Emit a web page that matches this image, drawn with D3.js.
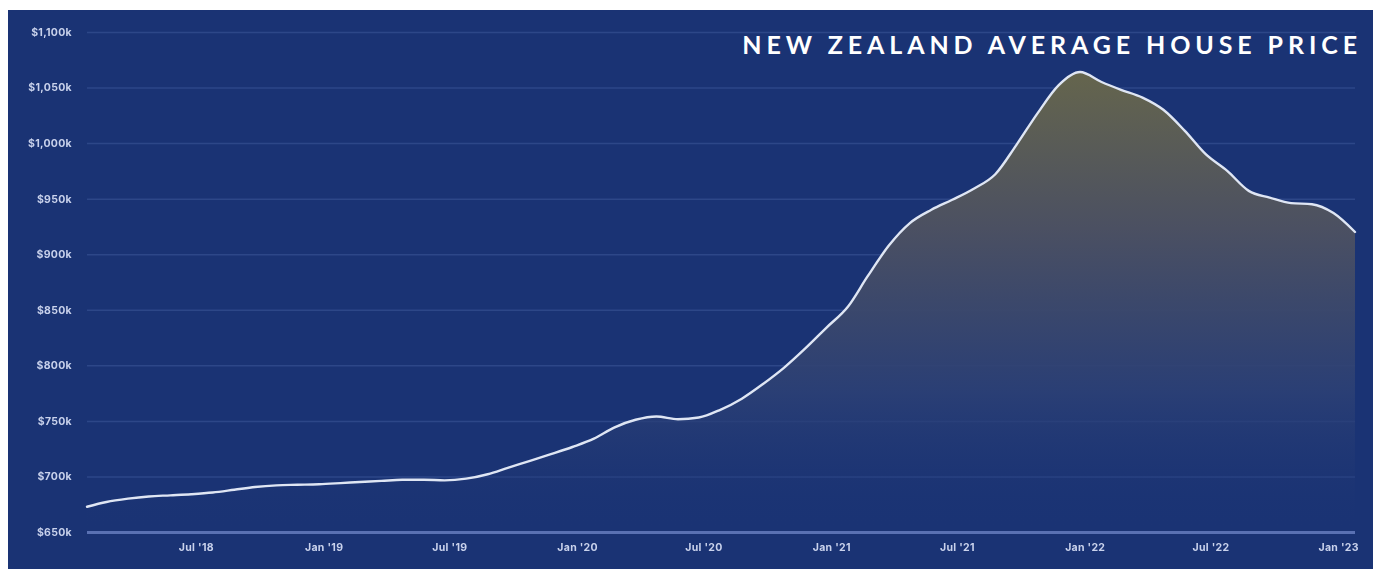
<!DOCTYPE html>
<html>
<head>
<meta charset="utf-8">
<script src="https://cdn.jsdelivr.net/npm/d3@7"></script>
<style>
  html, body { margin: 0; padding: 0; background: #ffffff; }
  svg { display: block; }
</style>
</head>
<body>
<svg id="chart" width="1373" height="569"></svg>
<script>
// Monthly average house price, NZD thousands (month-end, Jan 2018 – Jan 2023)
const months = [
  "2018-01","2018-02","2018-03","2018-04","2018-05","2018-06","2018-07","2018-08","2018-09","2018-10","2018-11","2018-12",
  "2019-01","2019-02","2019-03","2019-04","2019-05","2019-06","2019-07","2019-08","2019-09","2019-10","2019-11","2019-12",
  "2020-01","2020-02","2020-03","2020-04","2020-05","2020-06","2020-07","2020-08","2020-09","2020-10","2020-11","2020-12",
  "2021-01","2021-02","2021-03","2021-04","2021-05","2021-06","2021-07","2021-08","2021-09","2021-10","2021-11","2021-12",
  "2022-01","2022-02","2022-03","2022-04","2022-05","2022-06","2022-07","2022-08","2022-09","2022-10","2022-11","2022-12",
  "2023-01"
];
const avgPrice = [
  672.7, 677, 680, 682, 683, 684, 685.5, 688, 690.5, 692, 692.5, 693,
  694, 695, 696, 697, 697, 696.5, 698, 702, 708, 714, 720, 726.5,
  734, 744, 751, 754, 751.5, 753, 760, 770, 783, 798, 815, 834,
  853, 880, 908, 928, 940, 949, 959, 972, 998, 1027, 1052, 1064,
  1055, 1048, 1041, 1030, 1011, 990, 975, 957, 951, 946, 945, 937,
  920
];
const yTicks = [650, 700, 750, 800, 850, 900, 950, 1000, 1050, 1100];
const xTickDates = ["2018-07","2019-01","2019-07","2020-01","2020-07","2021-01","2021-07","2022-01","2022-07","2023-01"];
const xTickLabels = ["Jul '18","Jan '19","Jul '19","Jan '20","Jul '20","Jan '21","Jul '21","Jan '22","Jul '22","Jan '23"];
const title = "NEW ZEALAND AVERAGE HOUSE PRICE";

const svg = d3.select("#chart");
const W = 1373, H = 569;

// month-end date for each data point
const monthEnd = s => { const [y, m] = s.split("-").map(Number); return new Date(y, m, 0); };
const monthStart = s => { const [y, m] = s.split("-").map(Number); return new Date(y, m - 1, 1); };
const data = months.map((m, i) => ({ date: monthEnd(m), value: avgPrice[i] }));

const plot = { left: 87, right: 1355, top: 32, bottom: 532 };

const x = d3.scaleTime()
  .domain(d3.extent(data, d => d.date))
  .range([plot.left, plot.right]);
const y = d3.scaleLinear()
  .domain([650, 1100])
  .range([plot.bottom, plot.top]);

// panel background
svg.append("rect")
  .attr("x", 8).attr("y", 10)
  .attr("width", W - 8).attr("height", H - 10)
  .attr("fill", "#1a3374");

const defs = svg.append("defs");
const grad = defs.append("linearGradient")
  .attr("id", "areaFill")
  .attr("gradientUnits", "userSpaceOnUse")
  .attr("x1", 0).attr("y1", y(1070))
  .attr("x2", 0).attr("y2", y(650));
grad.append("stop").attr("offset", "0%").attr("stop-color", "#66664c").attr("stop-opacity", 1);
grad.append("stop").attr("offset", "35%").attr("stop-color", "#4b5062").attr("stop-opacity", 1);
grad.append("stop").attr("offset", "70%").attr("stop-color", "#2c4075").attr("stop-opacity", 0.9);
grad.append("stop").attr("offset", "100%").attr("stop-color", "#1a3374").attr("stop-opacity", 0);

const blur = defs.append("filter").attr("id", "soft")
  .attr("x", "-10%").attr("y", "-30%").attr("width", "120%").attr("height", "160%");
blur.append("feGaussianBlur").attr("stdDeviation", 0.55);

// horizontal gridlines
const yAxis = d3.axisLeft(y)
  .tickValues(yTicks)
  .tickSize(-(plot.right - plot.left))
  .tickPadding(15)
  .tickFormat(d => "$" + d3.format(",")(d) + "k");

const gy = svg.append("g")
  .attr("transform", `translate(${plot.left},0)`)
  .call(yAxis);
gy.select(".domain").remove();
gy.selectAll(".tick line")
  .attr("stroke", d => d === 650 ? "#5a71b3" : "#2d4788")
  .attr("stroke-width", d => d === 650 ? 3 : 1.5);
gy.selectAll(".tick text")
  .attr("fill", "#c9d2ec")
  .attr("font-family", "Inter, 'Liberation Sans', sans-serif")
  .attr("font-weight", 700)
  .attr("font-size", 10.5)
  .attr("letter-spacing", 0.3)
  .attr("filter", "url(#soft)");

// area + line
const area = d3.area()
  .x(d => x(d.date))
  .y0(y(650))
  .y1(d => y(d.value))
  .curve(d3.curveMonotoneX);
const line = d3.line()
  .x(d => x(d.date))
  .y(d => y(d.value))
  .curve(d3.curveMonotoneX);

svg.append("path")
  .datum(data)
  .attr("d", area)
  .attr("fill", "url(#areaFill)");

svg.append("path")
  .datum(data)
  .attr("d", line)
  .attr("fill", "none")
  .attr("stroke", "#dfe6f4")
  .attr("stroke-width", 2.4)
  .attr("stroke-linejoin", "round")
  .attr("stroke-linecap", "round");

// x axis labels
const xAxis = d3.axisBottom(x)
  .tickValues(xTickDates.map(monthStart))
  .tickSize(0)
  .tickPadding(12)
  .tickFormat((d, i) => xTickLabels[i]);
const gx = svg.append("g")
  .attr("transform", `translate(4,${plot.bottom})`)
  .call(xAxis);
gx.select(".domain").remove();
gx.selectAll(".tick text")
  .attr("fill", "#c9d2ec")
  .attr("font-family", "Inter, 'Liberation Sans', sans-serif")
  .attr("font-weight", 700)
  .attr("font-size", 10.5)
  .attr("letter-spacing", 0.3)
  .attr("filter", "url(#soft)");

// title
svg.append("text")
  .attr("x", 1362)
  .attr("y", 54)
  .attr("text-anchor", "end")
  .attr("fill", "#ffffff")
  .attr("font-family", "Lato, 'Open Sans', sans-serif")
  .attr("font-weight", 700)
  .attr("font-size", 25)
  .attr("letter-spacing", 4.9)
  .text(title);
</script>
</body>
</html>
